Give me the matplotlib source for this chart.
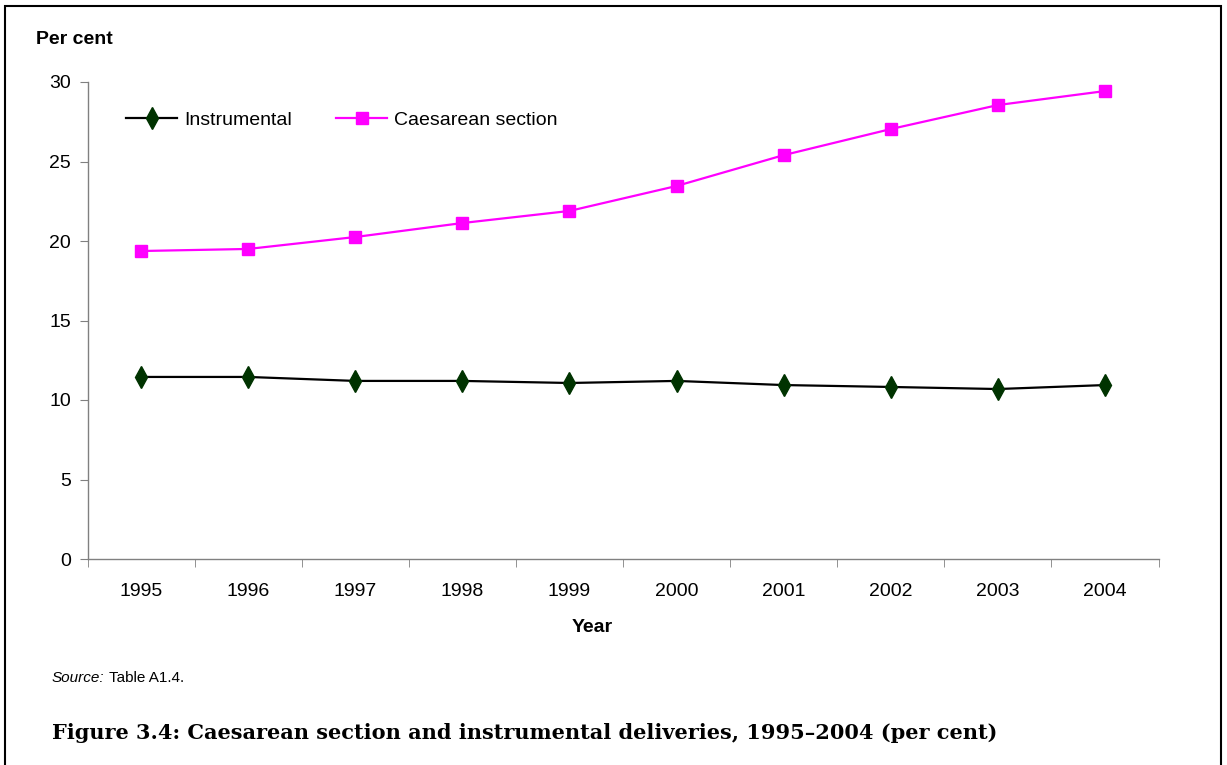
import numpy as np
import matplotlib
matplotlib.use("Agg")
from matplotlib import pyplot as plt
from matplotlib.patches import Rectangle

# data
years = ["1995", "1996", "1997", "1998", "1999", "2000", "2001", "2002", "2003", "2004"]
instrumental = [11.45, 11.45, 11.2, 11.2, 11.07, 11.2, 10.94, 10.82, 10.69, 10.94]
caesarean = [19.37, 19.5, 20.25, 21.13, 21.89, 23.46, 25.4, 27.04, 28.55, 29.43]
yticks = [0, 5, 10, 15, 20, 25, 30]

plt.rcParams["font.family"] = ["Liberation Sans", "DejaVu Sans"]

W, H = 1227, 765
fig = plt.figure(figsize=(W / 100, H / 100), dpi=100)
ax = fig.add_axes([87.5 / W, 1 - 559 / H, (1158.5 - 87.5) / W, (559 - 82) / H])

x = np.arange(len(years))
ax.plot(x, instrumental, color="black", lw=1.6, marker="d", markersize=11,
        markerfacecolor="#003300", markeredgecolor="#003300", label="Instrumental")
ax.plot(x, caesarean, color="#ff00ff", lw=1.6, marker="s", markersize=9,
        markerfacecolor="#ff00ff", markeredgecolor="#ff00ff", label="Caesarean section")

ax.set_xlim(-0.5, len(years) - 0.5)
ax.set_ylim(0, 30)
ax.set_yticks(yticks)
ax.set_xticks(x)
ax.set_xticklabels(years)
ax.set_xticks(np.arange(len(years) + 1) - 0.5, minor=True)
ax.tick_params(axis="x", which="major", length=0, pad=17, labelsize=14)
ax.tick_params(axis="x", which="minor", length=6, color="#808080", direction="out")
ax.tick_params(axis="y", length=6, color="#808080", direction="out", labelsize=14, pad=6)

for s in ["top", "right"]:
    ax.spines[s].set_visible(False)
for s in ["left", "bottom"]:
    ax.spines[s].set_color("#808080")
    ax.spines[s].set_linewidth(1.0)

ax.legend(loc="upper left", bbox_to_anchor=(0.02, 0.975), ncol=2, frameon=False,
          fontsize=14, handlelength=2.6, handletextpad=0.35, columnspacing=2.3)

fig.text(36 / W, 1 - 40 / H, "Per cent", fontsize=14, fontweight="bold", va="center", ha="left")
fig.text(592 / W, 1 - 628 / H, "Year", fontsize=14, fontweight="bold", va="center", ha="center")

src = fig.text(52 / W, 1 - 678 / H, "Source:", fontsize=11, style="italic", va="center", ha="left")
r = fig.canvas.get_renderer()
bb = src.get_window_extent(renderer=r)
fig.text(bb.x1 / W, 1 - 678 / H, " Table A1.4.", fontsize=11, va="center", ha="left")

fig.text(52 / W, 1 - 733 / H,
         "Figure 3.4: Caesarean section and instrumental deliveries, 1995\u20132004 (per cent)",
         fontsize=15, fontweight="bold", va="center", ha="left",
         family=["DejaVu Serif"])

# page frame
fig.patches.append(Rectangle((5 / W, -0.01), (1221 - 5) / W, 1.01 - 6 / H,
                             transform=fig.transFigure, fill=False,
                             edgecolor="black", lw=1.5))

plt.savefig("out.png", dpi=100)
